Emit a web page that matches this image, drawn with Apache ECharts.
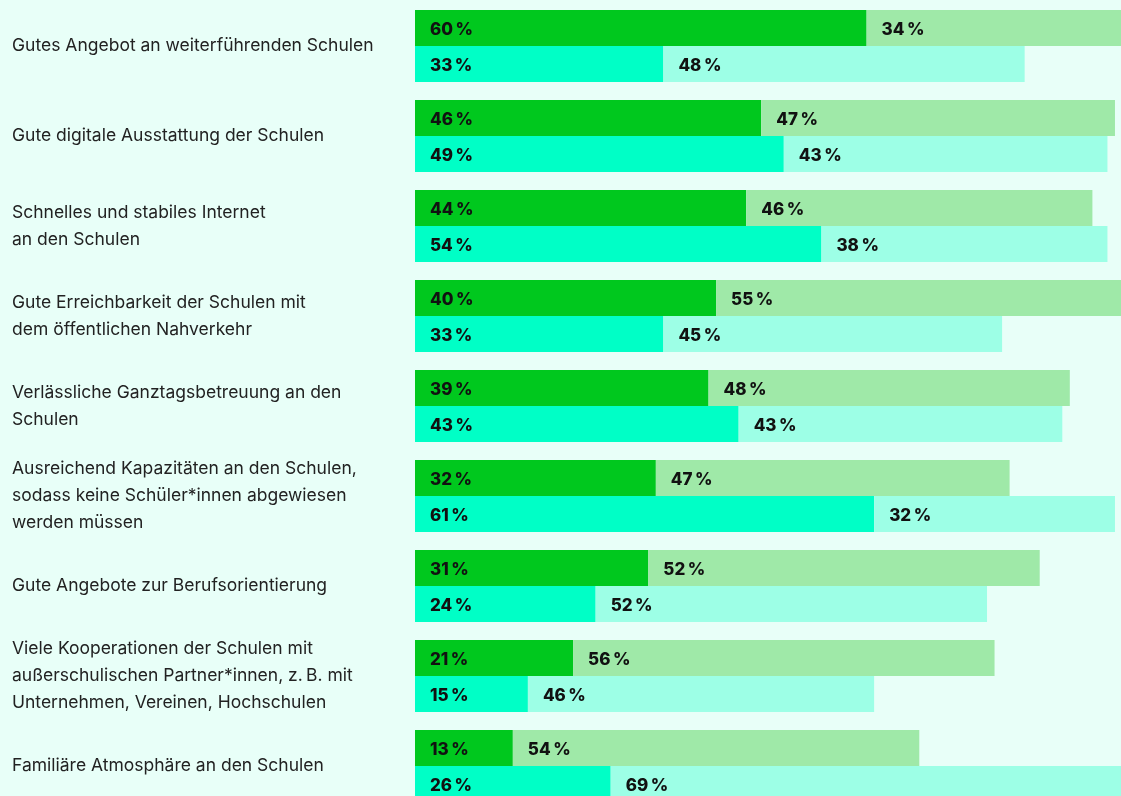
<!DOCTYPE html>
<html>
<head>
<meta charset="utf-8">
<script src="https://cdn.jsdelivr.net/npm/echarts@6/dist/echarts.min.js"></script>
<style>
  html, body { margin: 0; padding: 0; background: #e8fff8; }
  #chart { width: 1121px; height: 796px; }
</style>
</head>
<body>
<div id="chart"></div>
<script>
var categories = [
  "Gutes Angebot an weiterführenden Schulen",
  "Gute digitale Ausstattung der Schulen",
  "Schnelles und stabiles Internet\nan den Schulen",
  "Gute Erreichbarkeit der Schulen mit\ndem öffentlichen Nahverkehr",
  "Verlässliche Ganztagsbetreuung an den\nSchulen",
  "Ausreichend Kapazitäten an den Schulen,\nsodass keine Schüler*innen abgewiesen\nwerden müssen",
  "Gute Angebote zur Berufsorientierung",
  "Viele Kooperationen der Schulen mit\naußerschulischen Partner*innen, z.\u2009B. mit\nUnternehmen, Vereinen, Hochschulen",
  "Familiäre Atmosphäre an den Schulen"
];
// upper bar of each pair
var darkGreen = [60, 46, 44, 40, 39, 32, 31, 21, 13];
var lightGreen = [34, 47, 46, 55, 48, 47, 52, 56, 54];
// lower bar of each pair
var teal = [33, 49, 54, 33, 43, 61, 24, 15, 26];
var lightTeal = [48, 43, 38, 45, 43, 32, 52, 46, 69];

var myChart = echarts.init(document.getElementById("chart"));

function barSeries(values, stack, color) {
  return {
    type: "bar",
    stack: stack,
    data: values,
    barWidth: 36,
    barGap: "0%",
    clip: true,
    itemStyle: { color: color },
    label: {
      show: true,
      position: "insideLeft",
      distance: 15,
      offset: [0, 2],
      formatter: "{c}\u2009%",
      color: "#111",
      fontFamily: "Inter",
      fontWeight: 800,
      fontSize: 17
    },
    emphasis: { disabled: true }
  };
}

var option = {
  backgroundColor: "#e8fff8",
  animation: false,
  grid: { left: 415, right: 0, top: 1, height: 810, outerBoundsMode: "none" },
  xAxis: { type: "value", min: 0, max: 93.8, show: false },
  yAxis: {
    type: "category",
    inverse: true,
    data: categories,
    axisLine: { show: false },
    axisTick: { show: false },
    axisLabel: {
      align: "left",
      margin: 403,
      color: "#222",
      fontFamily: "Inter",
      fontSize: 17.5,
      lineHeight: 27
    }
  },
  series: [
    barSeries(darkGreen, "a", "#00c81e"),
    barSeries(lightGreen, "a", "#9fe9a8"),
    barSeries(teal, "b", "#00ffc6"),
    barSeries(lightTeal, "b", "#9dffe6")
  ]
};

myChart.setOption(option);
window.addEventListener("resize", function () {
  myChart.resize();
});
</script>
</body>
</html>
